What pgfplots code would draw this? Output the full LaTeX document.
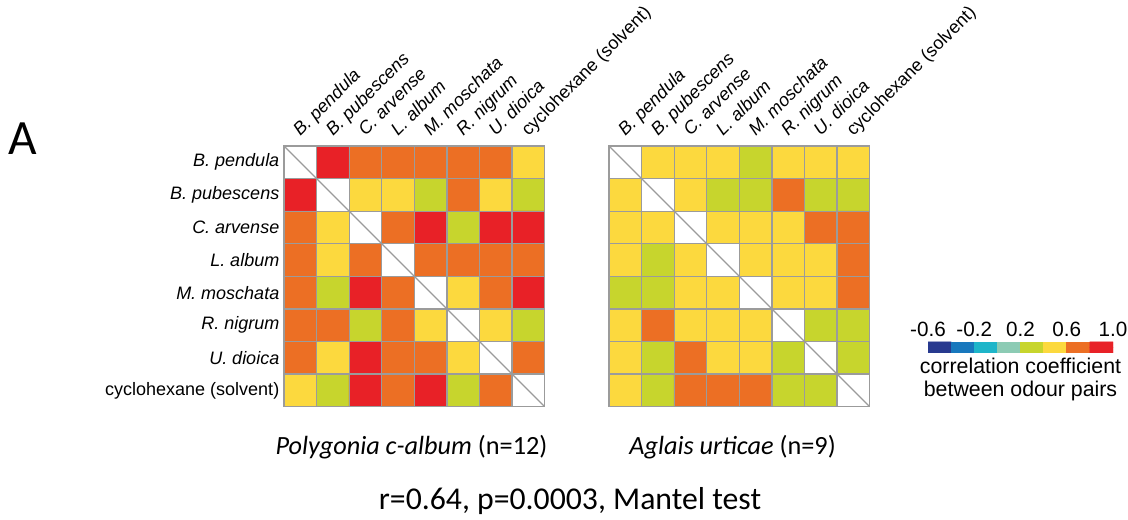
\documentclass[border=0pt]{standalone}
\usepackage{fontspec}
\setmainfont{Liberation Sans}
\newfontfamily\calibri{Carlito}
\usepackage{pgfplots}
\usepackage{pgfplotstable}
\pgfplotsset{compat=1.18}
\definecolor{gridgray}{RGB}{155,155,155}

% correlation coefficients (diagonal = 1.0, drawn white)
\pgfplotstableread[row sep=\\]{
x y v\\
0 0 1.0\\ 1 0 0.9\\ 2 0 0.7\\ 3 0 0.7\\ 4 0 0.7\\ 5 0 0.7\\ 6 0 0.7\\ 7 0 0.5\\
0 1 0.9\\ 1 1 1.0\\ 2 1 0.5\\ 3 1 0.5\\ 4 1 0.3\\ 5 1 0.7\\ 6 1 0.5\\ 7 1 0.3\\
0 2 0.7\\ 1 2 0.5\\ 2 2 1.0\\ 3 2 0.7\\ 4 2 0.9\\ 5 2 0.3\\ 6 2 0.9\\ 7 2 0.9\\
0 3 0.7\\ 1 3 0.5\\ 2 3 0.7\\ 3 3 1.0\\ 4 3 0.7\\ 5 3 0.7\\ 6 3 0.7\\ 7 3 0.7\\
0 4 0.7\\ 1 4 0.3\\ 2 4 0.9\\ 3 4 0.7\\ 4 4 1.0\\ 5 4 0.5\\ 6 4 0.7\\ 7 4 0.9\\
0 5 0.7\\ 1 5 0.7\\ 2 5 0.3\\ 3 5 0.7\\ 4 5 0.5\\ 5 5 1.0\\ 6 5 0.5\\ 7 5 0.3\\
0 6 0.7\\ 1 6 0.5\\ 2 6 0.9\\ 3 6 0.7\\ 4 6 0.7\\ 5 6 0.5\\ 6 6 1.0\\ 7 6 0.7\\
0 7 0.5\\ 1 7 0.3\\ 2 7 0.9\\ 3 7 0.7\\ 4 7 0.9\\ 5 7 0.3\\ 6 7 0.7\\ 7 7 1.0\\
}\leftdata

\pgfplotstableread[row sep=\\]{
x y v\\
0 0 1.0\\ 1 0 0.5\\ 2 0 0.5\\ 3 0 0.5\\ 4 0 0.3\\ 5 0 0.5\\ 6 0 0.5\\ 7 0 0.5\\
0 1 0.5\\ 1 1 1.0\\ 2 1 0.5\\ 3 1 0.3\\ 4 1 0.3\\ 5 1 0.7\\ 6 1 0.3\\ 7 1 0.3\\
0 2 0.5\\ 1 2 0.5\\ 2 2 1.0\\ 3 2 0.5\\ 4 2 0.5\\ 5 2 0.5\\ 6 2 0.7\\ 7 2 0.7\\
0 3 0.5\\ 1 3 0.3\\ 2 3 0.5\\ 3 3 1.0\\ 4 3 0.5\\ 5 3 0.5\\ 6 3 0.5\\ 7 3 0.7\\
0 4 0.3\\ 1 4 0.3\\ 2 4 0.5\\ 3 4 0.5\\ 4 4 1.0\\ 5 4 0.5\\ 6 4 0.5\\ 7 4 0.7\\
0 5 0.5\\ 1 5 0.7\\ 2 5 0.5\\ 3 5 0.5\\ 4 5 0.5\\ 5 5 1.0\\ 6 5 0.3\\ 7 5 0.3\\
0 6 0.5\\ 1 6 0.3\\ 2 6 0.7\\ 3 6 0.5\\ 4 6 0.5\\ 5 6 0.3\\ 6 6 1.0\\ 7 6 0.3\\
0 7 0.5\\ 1 7 0.3\\ 2 7 0.7\\ 3 7 0.7\\ 4 7 0.7\\ 5 7 0.3\\ 6 7 0.3\\ 7 7 1.0\\
}\rightdata

\pgfplotstableread[row sep=\\]{
x y v\\
-0.5 0 -0.5\\ -0.3 0 -0.3\\ -0.1 0 -0.1\\ 0.1 0 0.1\\ 0.3 0 0.3\\ 0.5 0 0.5\\ 0.7 0 0.7\\ 0.9 0 0.9\\
-0.5 1 -0.5\\ -0.3 1 -0.3\\ -0.1 1 -0.1\\ 0.1 1 0.1\\ 0.3 1 0.3\\ 0.5 1 0.5\\ 0.7 1 0.7\\ 0.9 1 0.9\\
}\cbdata

\pgfplotsset{
  corrmap/.style={
    colormap={hm}{rgb255=(40,58,143) rgb255=(24,120,189) rgb255=(30,181,201)
      rgb255=(140,203,180) rgb255=(199,213,45) rgb255=(252,217,62)
      rgb255=(236,111,36) rgb255=(232,33,39) rgb255=(255,255,255)},
    colormap access=direct,
  },
  hmap/.style={
    corrmap,
    scale only axis, width=195.5pt, height=195.5pt,
    anchor=south west,
    xmin=-0.5, xmax=7.5, ymin=-0.5, ymax=7.5, y dir=reverse,
    xtick={0,...,7}, ytick={0,...,7},
    major tick length=0pt, minor tick length=0pt,
    minor xtick={-0.5,0.5,...,7.5}, minor ytick={-0.5,0.5,...,7.5},
    xminorgrids, yminorgrids,
    minor grid style={draw=gridgray, line width=0.9pt},
    axis line style={draw=gridgray, line width=0.9pt},
    axis on top,
    xticklabel pos=upper,
    xticklabels={\textit{B. pendula},\textit{B. pubescens},\textit{C. arvense},\textit{L. album},\textit{M. moschata},\textit{R. nigrum},\textit{U. dioica},cyclohexane (solvent)},
    tick label style={font=\fontsize{13.5}{16}\selectfont},
    xticklabel style={rotate=45, anchor=base west, inner sep=0pt},
    xticklabel shift=6.75pt,
  },
}

\begin{document}
\begin{tikzpicture}
\useasboundingbox (0,0) rectangle (846pt,390pt);

\node[anchor=base west, inner sep=0pt, font=\calibri\fontsize{37}{40}\selectfont] at (6pt,273.75pt) {A};

% left heatmap
\begin{axis}[hmap, at={(213pt,85pt)},
  yticklabels={\textit{B. pendula},\textit{B. pubescens},\textit{C. arvense},\textit{L. album},\textit{M. moschata},\textit{R. nigrum},\textit{U. dioica},cyclohexane (solvent)},
]
\addplot[matrix plot*, mesh/cols=8, point meta=explicit]
  table[x=x, y=y, meta expr={round((\thisrow{v}+0.55)*5)}] {\leftdata};
\addplot[draw=gridgray, line width=0.9pt] coordinates {(-0.5,-0.5) (7.5,7.5)};
\end{axis}

% right heatmap
\begin{axis}[hmap, at={(456.75pt,85pt)}, yticklabels={}]
\addplot[matrix plot*, mesh/cols=8, point meta=explicit]
  table[x=x, y=y, meta expr={round((\thisrow{v}+0.55)*5)}] {\rightdata};
\addplot[draw=gridgray, line width=0.9pt] coordinates {(-0.5,-0.5) (7.5,7.5)};
\end{axis}

% colour bar
\begin{axis}[corrmap, at={(696pt,125.25pt)}, anchor=south west,
  scale only axis, width=138.75pt, height=8.25pt,
  xmin=-0.6, xmax=1.0, ymin=-0.5, ymax=1.5,
  ytick=\empty, xtick={-0.6,-0.2,0.2,0.6,1.0},
  xticklabels={-0.6,-0.2,0.2,0.6,1.0},
  xticklabel pos=upper, major tick length=0pt,
  axis line style={draw=none},
  xticklabel style={anchor=base, inner sep=0pt, font=\fontsize{15.5}{17}\selectfont},
  xticklabel shift=3.75pt,
]
\addplot[matrix plot*, mesh/cols=8, point meta=explicit]
  table[x=x, y=y, meta expr={round((\thisrow{v}+0.55)*5)}] {\cbdata};
\end{axis}

\node[anchor=base, inner sep=0pt, font=\fontsize{16}{18}\selectfont] at (765.4pt,109.5pt) {correlation coefficient};
\node[anchor=base, inner sep=0pt, font=\fontsize{16}{18}\selectfont] at (765.4pt,92.25pt) {between odour pairs};

\node[anchor=base, inner sep=0pt, font=\calibri\fontsize{19.7}{22}\selectfont] at (308.6pt,48.75pt) {\textit{Polygonia c-album} (n=12)};
\node[anchor=base, inner sep=0pt, font=\calibri\fontsize{19.7}{22}\selectfont] at (549.4pt,48.75pt) {\textit{Aglais urticae} (n=9)};
\node[anchor=base, inner sep=0pt, font=\calibri\fontsize{23.8}{26}\selectfont] at (427.5pt,7.5pt) {r=0.64, p=0.0003, Mantel test};
\end{tikzpicture}
\end{document}
